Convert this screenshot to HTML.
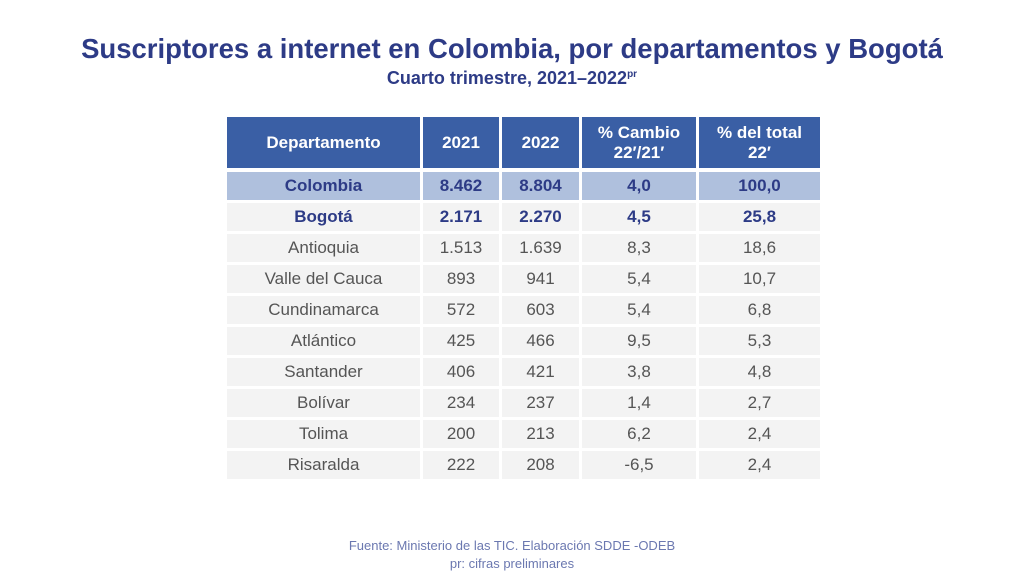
<!DOCTYPE html><html><head><style>
body{margin:0;width:1024px;height:578px;background:#fff;font-family:"Liberation Sans",sans-serif;position:relative;overflow:hidden}
.t{position:absolute;left:0;width:1024px;text-align:center;color:#2d3b86;font-weight:bold}
.c{position:absolute;display:flex;align-items:center;justify-content:center;font-size:17px;color:#555;background:#f3f3f3}
.h{background:#3a5fa5;color:#fff;font-weight:bold;font-size:17px;text-align:center;line-height:20px}
.co{background:#afc0dd;color:#2d3b86;font-weight:bold}
.b{color:#2d3b86;font-weight:bold}
</style></head><body>
<div class="t" style="top:33px;font-size:27.5px">Suscriptores a internet en Colombia, por departamentos y Bogotá</div>
<div class="t" style="top:68px;font-size:18px">Cuarto trimestre, 2021–2022<sup style="font-size:10px">pr</sup></div>
<div id="tb"></div>
<div style="position:absolute;top:537px;left:0;width:1024px;text-align:center;color:#6b78b0;font-size:13px;line-height:18px">Fuente: Ministerio de las TIC. Elaboración SDDE -ODEB<br>pr: cifras preliminares</div>
<script>
var X=[[227,193],[423,76],[502,77],[582,114],[699,121]];
var H=["Departamento","2021","2022","% Cambio<br>22′/21′","% del total<br>22′"];
var R=[["Colombia","8.462","8.804","4,0","100,0"],["Bogotá","2.171","2.270","4,5","25,8"],["Antioquia","1.513","1.639","8,3","18,6"],["Valle del Cauca","893","941","5,4","10,7"],["Cundinamarca","572","603","5,4","6,8"],["Atlántico","425","466","9,5","5,3"],["Santander","406","421","3,8","4,8"],["Bolívar","234","237","1,4","2,7"],["Tolima","200","213","6,2","2,4"],["Risaralda","222","208","-6,5","2,4"]];
var s="";
X.forEach(function(x,i){s+='<div class="c h" style="left:'+x[0]+'px;width:'+x[1]+'px;top:117px;height:51px">'+H[i]+'</div>';});
R.forEach(function(r,j){var y=172+j*31;r.forEach(function(v,i){var cl=j==0?"co":(j==1?"b":"");s+='<div class="c '+cl+'" style="left:'+X[i][0]+'px;width:'+X[i][1]+'px;top:'+y+'px;height:28px">'+v+'</div>';});});
document.getElementById("tb").innerHTML=s;
</script>
</body></html>
